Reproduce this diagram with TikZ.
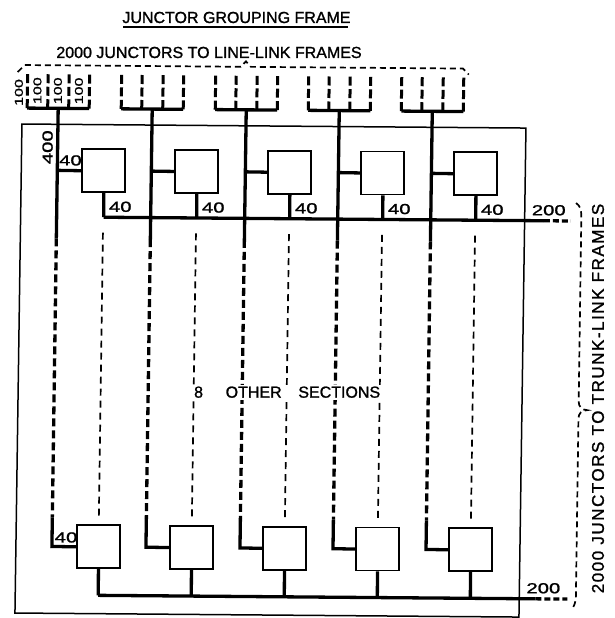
\documentclass[tikz,border=0pt]{standalone}
\usepackage{fontspec}
\setmainfont{Liberation Sans}[FakeBold=1.3]
\newfontfamily\digfont{Liberation Sans}[FakeStretch=1.4,FakeBold=1.3]
\begin{document}
\begin{tikzpicture}[x=1pt,y=-1pt,
  frameln/.style={line width=1.5pt},
  blk/.style={draw,line width=1.7pt,minimum size=43pt,inner sep=0pt,fill=white},
  heavy/.style={line width=3.3pt},
  heavydash/.style={line width=3.3pt,dash pattern=on 8pt off 4pt},
  barln/.style={line width=3pt,dash pattern=on 9pt off 3.5pt},
  thindash/.style={line width=1.7pt,dash pattern=on 7pt off 5pt},
  bracedash/.style={line width=1.7pt,dash pattern=on 6pt off 4pt},
  num/.style={font=\digfont\fontsize{14.5}{14.5}\selectfont,inner sep=0pt},
  smallnum/.style={font=\digfont\fontsize{11.5}{11.5}\selectfont,inner sep=0pt,rotate=90},
  ttl/.style={font=\fontsize{16}{16}\selectfont,inner sep=0pt},
]
\useasboundingbox (0,0) rectangle (614,618);
\fill[white] (0,0) rectangle (614,618);

% titles (unskewed)
\node[ttl,anchor=base] (title) at (236.5,23) {JUNCTOR GROUPING FRAME};
\coordinate (ul1) at (123,27);
\coordinate (ul2) at (348,27);
\draw[frameln] (ul1) -- (ul2);
\node[ttl,anchor=base] (sub) at (209,58) {2000 JUNCTORS TO LINE-LINK FRAMES};
\node[ttl,rotate=90,font=\fontsize{17}{17}\selectfont\addfontfeature{LetterSpace=9}] (side) at (598,398.5) {2000 JUNCTORS TO TRUNK-LINK FRAMES};

\begin{scope}[cm={1,-0.008,0.0143,1,(1.716pt,0.16pt)}]
  % frame
  \draw[frameln] (22,124) rectangle (526,613);

  % top dashed brace
  \coordinate (tb0) at (17,72);
  \coordinate (tb1) at (24,65);
  \coordinate (tb2) at (240,65);
  \coordinate (tb3) at (245,59.5);
  \coordinate (tb4) at (250,65);
  \coordinate (tb5) at (462,65);
  \coordinate (tb6) at (468,71);
  \draw[bracedash] (tb0) -- (tb1) -- (tb2) -- (tb3) -- (tb4) -- (tb5) -- (tb6);

  % right dashed brace
  \coordinate (rb0) at (577,198.5);
  \coordinate (rb1) at (582.5,211);
  \coordinate (rb2) at (582.5,397);
  \coordinate (rb3) at (591,405.5);
  \coordinate (rb4) at (582.5,414);
  \coordinate (rb5) at (582.5,592);
  \coordinate (rb6) at (578,605.5);
  \draw[bracedash] (rb0) .. controls (581,201) and (582.5,205) .. (rb1) -- (rb2)
     .. controls (582.5,402) and (586,405.5) .. (rb3)
     .. controls (586,405.5) and (582.5,409) .. (rb4) -- (rb5)
     .. controls (582.5,598) and (581,602) .. (rb6);

  % sections
  \foreach \i/\sx/\bx in {1/58/104.5,2/152/197.5,3/246/290.5,4/339/383.5,5/432/476.5}{
    \node[blk] (U\i) at (\bx,170) {};
    \node[blk] (L\i) at (\bx,546) {};
    % fan of four groups of 100
    \foreach \o [count=\k] in {-31,-10.5,10.5,31}{
      \coordinate (Bb\i\k) at ({\sx+\o},108);
      \coordinate (Bt\i\k) at ({\sx+\o},73);
      \draw[barln] (Bb\i\k) -- (Bt\i\k);
    }
    \draw[heavy,line cap=square] (Bb\i1) -- (Bb\i4);
    % vertical stem
    \coordinate (F\i) at (\sx,108);
    \coordinate (Sa\i) at (\sx,238);
    \coordinate (Sb\i) at (\sx,517);
    \coordinate (Sc\i) at (\sx,546);
    \coordinate (Cu\i) at (\sx,170);
    \draw[heavy] (F\i) -- (Sa\i);
    \draw[heavydash] (Sa\i) -- (Sb\i);
    \draw[heavy] (Sb\i) -- (Sc\i) -- (L\i.west);
    \draw[heavy] (Cu\i) -- (U\i.west);
    % outputs to buses
    \coordinate (Ub\i) at ({\bx+0.5},216.5);
    \coordinate (Lb\i) at ({\bx+0.5},594.5);
    \draw[heavy] (U\i.south) -- (Ub\i);
    \draw[heavy] (L\i.south) -- (Lb\i);
    % thin dashed continuation
    \coordinate (Ta\i) at (\bx,232);
    \coordinate (Tb\i) at (\bx,517);
    \draw[thindash] (Ta\i) -- (Tb\i);
    \node[num] (o\i) at ({\bx+17},206) {40};
  }

  % buses
  \coordinate (UbE) at (545,216.5);
  \coordinate (UbD) at (572,216.5);
  \coordinate (LbE) at (542,594.5);
  \coordinate (LbD) at (574,594.5);
  \draw[heavy] (Ub1) -- (UbE);
  \draw[heavydash,dash pattern=on 6pt off 3pt] (UbE) -- (UbD);
  \draw[heavy] (Lb1) -- (LbE);
  \draw[heavydash,dash pattern=on 6pt off 3pt] (LbE) -- (LbD);

  % labels
  \node[num] (in1) at (71,160) {40};
  \node[num] (in2) at (72,537) {40};
  \node[num,rotate=90] (tot) at (48,147) {400};
  \node[num] (out1) at (550,206) {200};
  \node[num] (out2) at (550,584) {200};
  \node[smallnum] (h1) at (18.5,92.5) {100};
  \node[smallnum] (h2) at (37,90.5) {100};
  \node[smallnum] (h3) at (57.5,90.5) {100};
  \node[smallnum] (h4) at (78.5,90.5) {100};

  \node[ttl,fill=white,inner sep=2pt] (other) at (291,390) {\hbox to 186pt{8\hskip 0pt plus 1.36fil OTHER\hskip 0pt plus 1fil SECTIONS}};
\end{scope}
\end{tikzpicture}
\end{document}
